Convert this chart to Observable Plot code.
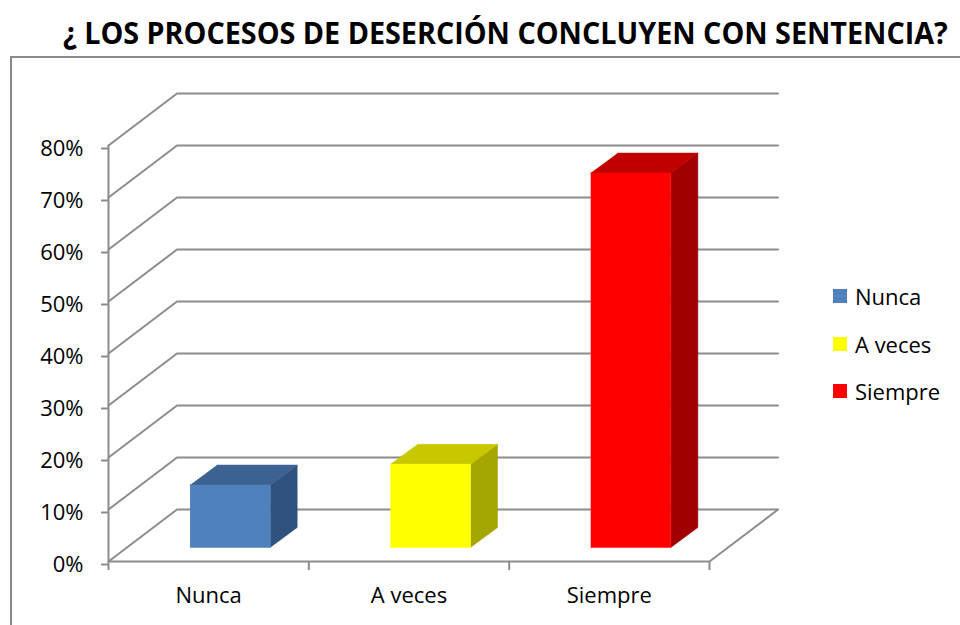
<!DOCTYPE html>
<html>
<head>
<meta charset="utf-8">
<script src="https://cdn.jsdelivr.net/npm/d3@7"></script>
<script src="https://cdn.jsdelivr.net/npm/@observablehq/plot@0.6"></script>
<style>
  html, body { margin: 0; padding: 0; background: #fff; }
  body { width: 960px; height: 625px; overflow: hidden; position: relative; font-family: "Open Sans", sans-serif; }
  #title { position: absolute; left: 63px; top: 18.4px; white-space: nowrap; font-family: "Open Sans"; font-weight: bold;
           font-size: 30px; line-height: 30px; color: #000; transform-origin: 0 0; z-index: 2; }
  #border { position: absolute; left: 10px; top: 56px; width: 980px; height: 600px;
            border-left: 2px solid #8a8a8a; border-top: 2px solid #8a8a8a; box-sizing: border-box; }
  #chart { position: absolute; left: 0; top: 50px; }
  #legend { position: absolute; left: 833px; top: 281px; }
  .item { display: flex; align-items: center; height: 30px; margin-bottom: 17.5px; font-size: 22px; color: #000; }
  .sw { width: 14px; height: 14px; margin-right: 8px; }
</style>
</head>
<body>
<div id="title">¿ LOS PROCESOS DE DESERCIÓN CONCLUYEN CON SENTENCIA?</div>
<div id="border"></div>
<div id="chart"></div>
<div id="legend"></div>
<script>
// ---- data ----
const categories = ["Nunca", "A veces", "Siempre"];
const values = [12, 16, 72];
const yTicks = [0, 10, 20, 30, 40, 50, 60, 70, 80];

// ---- styles ----
const frontColors = ["#4F81BD", "#FFFF00", "#FF0000"];
const topColors = ["#3C6291", "#C8C800", "#C00000"];
const sideColors = ["#30527E", "#A6A600", "#A00000"];
const gridColor = "#8c8c8c";

// fit title width
const titleEl = document.getElementById("title");
titleEl.style.transform = `scaleX(${885 / titleEl.offsetWidth})`;

// 3D projection constants (in scale units)
const DX = 0.342, DY = 10;            // wall depth
const HALF = 0.2;                      // half bar width
const FX = 0.107, FY = 2.7;            // bar front offset
const BX = 0.242, BY = 6.55;           // bar back offset

// gridlines: front-left diagonal + back wall
const n = categories.length;
const grid = [];
yTicks.forEach(v => {
  grid.push({z: "g" + v, x: 0, y: v});
  grid.push({z: "g" + v, x: DX, y: v + DY});
  grid.push({z: "g" + v, x: n + DX, y: v + DY});
});
// floor front edge and right diagonal
grid.push({z: "floor", x: 0, y: 0}, {z: "floor", x: n, y: 0}, {z: "floor", x: n + DX, y: DY});

// bar faces
const faces = [];
categories.forEach((c, i) => {
  const v = values[i];
  const x0 = i + 0.5 - HALF, x1 = i + 0.5 + HALF;
  const side = [[x1 + FX, FY], [x1 + BX, BY], [x1 + BX, v + BY], [x1 + FX, v + FY]];
  const top = [[x0 + FX, v + FY], [x1 + FX, v + FY], [x1 + BX, v + BY], [x0 + BX, v + BY]];
  const front = [[x0 + FX, FY], [x1 + FX, FY], [x1 + FX, v + FY], [x0 + FX, v + FY]];
  [[side, sideColors[i], "side"], [top, topColors[i], "top"], [front, frontColors[i], "front"]].forEach(([pts, col, name]) => {
    pts.forEach(([x, y]) => faces.push({key: c + "-" + name, x, y, fill: col}));
  });
});

const chart = Plot.plot({
  width: 960,
  height: 575,
  marginLeft: 108,
  marginRight: 251,
  marginTop: 43,
  marginBottom: 64,
  x: {domain: [0, n], label: null},
  y: {domain: [0, 90], label: null},
  color: {type: "identity"},
  style: {fontFamily: "Open Sans", fontSize: "22px", overflow: "visible", background: "transparent", color: "#000"},
  marks: [
    Plot.line(grid, {x: "x", y: "y", z: "z", stroke: gridColor, strokeWidth: 2}),
    Plot.ruleX([0], {y1: 0, y2: 80, stroke: gridColor, strokeWidth: 2}),
    Plot.axisY(yTicks, {label: null, tickSize: 7, tickPadding: 18, dy: 3, tickFormat: d => d + "%", stroke: gridColor, strokeWidth: 2, fill: "#000", fontSize: 22}),
    Plot.axisX(d3.range(n + 1), {label: null, tickSize: 9, tickFormat: () => "", stroke: gridColor, strokeWidth: 2}),
    Plot.axisX(categories.map((c, i) => i + 0.5), {label: null, tickSize: 0, tickPadding: 26, tickFormat: d => categories[Math.floor(d)], fill: "#000", fontSize: 22}),
    Plot.line(faces, {x: "x", y: "y", z: "key", fill: "fill", stroke: "fill", strokeWidth: 0.5})
  ]
});
document.getElementById("chart").appendChild(chart);

// legend
const lg = document.getElementById("legend");
categories.forEach((c, i) => {
  const it = document.createElement("div");
  it.className = "item";
  const sw = document.createElement("div");
  sw.className = "sw";
  sw.style.background = frontColors[i];
  const t = document.createElement("span");
  t.textContent = c;
  it.appendChild(sw); it.appendChild(t);
  lg.appendChild(it);
});
</script>
</body>
</html>
